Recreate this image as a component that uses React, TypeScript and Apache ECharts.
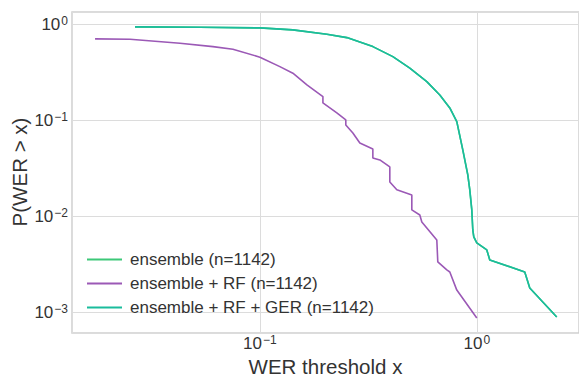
import React, { useEffect, useRef } from "react";
import * as echarts from "echarts";

const seriesNames = [
  "ensemble (n=1142)",
  "ensemble + RF (n=1142)",
  "ensemble + RF + GER (n=1142)",
];

const xTitle = "WER threshold x";
const yTitle = "P(WER > x)";

// [WER threshold, P(WER > x)]
const ensembleCurve: [number, number][] = [
  [0.02655, 0.931], [0.05291, 0.924], [0.1, 0.908], [0.1419, 0.866], [0.2036, 0.781],
  [0.2517, 0.72], [0.3317, 0.58], [0.4102, 0.456], [0.4911, 0.346], [0.5883, 0.2506],
  [0.6753, 0.182], [0.7509, 0.1334], [0.8088, 0.096], [0.8619, 0.0487], [0.9089, 0.02673],
  [0.9284, 0.0187], [0.9484, 0.01155], [0.9585, 0.00715], [0.9687, 0.00604], [1.0, 0.00524],
  [1.112, 0.00443], [1.148, 0.00348], [1.664, 0.00261], [1.755, 0.00178], [2.337, 0.000887],
];

const rfCurve: [number, number][] = [
  [0.01737, 0.698], [0.02518, 0.693], [0.04279, 0.629], [0.06073, 0.58], [0.07508, 0.545],
  [0.1, 0.45], [0.1236, 0.359], [0.1419, 0.3065], [0.1647, 0.2316], [0.1952, 0.175],
  [0.1952, 0.1503], [0.2263, 0.1183], [0.2489, 0.1], [0.2489, 0.0887], [0.2683, 0.0732],
  [0.2889, 0.0576], [0.3317, 0.0499], [0.3317, 0.0402], [0.3572, 0.0383], [0.3972, 0.0324],
  [0.3972, 0.0226], [0.4279, 0.0187], [0.5017, 0.01655], [0.5017, 0.01155], [0.5462, 0.01024],
  [0.5579, 0.00866], [0.6541, 0.00562], [0.661, 0.00332], [0.7273, 0.00274], [0.7509, 0.00261],
  [0.8088, 0.00169], [1.0, 0.000866],
];

const gerCurve: [number, number][] = ensembleCurve;

const colors = ["#3cc878", "#9b59b6", "#1abc9c"];

function powLabel(v: number): string {
  const e = Math.log10(v);
  const r = Math.round(e);
  if (Math.abs(e - r) > 1e-6) return "";
  const exp = r < 0 ? "\u2212" + Math.abs(r) : String(r);
  return "{b|10}{s|" + exp + "}";
}

const richLabel = {
  b: { fontSize: 17, color: "#333", fontFamily: "Liberation Sans", lineHeight: 18, verticalAlign: "bottom" },
  s: { fontSize: 12, color: "#333", fontFamily: "Liberation Sans", lineHeight: 18, verticalAlign: "top", padding: [0, 0, 0, 1] },
};

export default function App() {
  const ref = useRef<HTMLDivElement>(null);
  useEffect(() => {
    if (!ref.current) return;
    const chart = echarts.init(ref.current, undefined, { renderer: "svg" });
    const datas = [ensembleCurve, rfCurve, gerCurve];
    chart.setOption({
      animation: false,
      backgroundColor: "#ffffff",
      textStyle: { fontFamily: "Liberation Sans" },
      grid: {
        left: 72,
        top: 12,
        right: 0,
        bottom: 41,
        outerBoundsMode: "none",
        containLabel: false,
        show: true,
        borderColor: "#cfcfcf",
        borderWidth: 1.5,
        backgroundColor: "#ffffff",
      },
      graphic: [
        {
          type: "text",
          x: 19,
          y: 172,
          rotation: Math.PI / 2,
          style: {
            text: yTitle,
            fontSize: 20.5,
            fontFamily: "Liberation Sans",
            fill: "#333",
            align: "center",
            verticalAlign: "middle",
          },
        },
      ],
      legend: {
        left: 82,
        top: 246,
        orient: "vertical",
        itemWidth: 35,
        itemHeight: 2,
        itemGap: 7,
        icon: "rect",
        textStyle: { fontSize: 17, lineHeight: 17, color: "#333", fontFamily: "Liberation Sans", padding: [0, 0, 0, 3] },
        data: seriesNames.map((n, i) => ({ name: n, itemStyle: { color: colors[i] } })),
      },
      xAxis: {
        type: "log",
        logBase: 10,
        min: 0.0136,
        max: 2.96,
        name: xTitle,
        nameLocation: "middle",
        nameMoveOverlap: false,
        nameGap: 23,
        nameTextStyle: { fontSize: 20.5, color: "#333", fontFamily: "Liberation Sans" },
        axisLine: { show: false },
        axisTick: { show: false },
        axisLabel: {
          margin: 1,
          showMinLabel: false,
          showMaxLabel: false,
          formatter: (v: number) => powLabel(v),
          rich: richLabel,
        },
        splitLine: { show: true, lineStyle: { color: "#dcdcdc", width: 1 } },
      },
      yAxis: {
        type: "log",
        logBase: 10,
        min: 0.000604,
        max: 1.33,
        axisLine: { show: false },
        axisTick: { show: false },
        axisLabel: {
          margin: 4,
          showMinLabel: false,
          showMaxLabel: false,
          formatter: (v: number) => powLabel(v),
          rich: richLabel,
        },
        splitLine: { show: true, lineStyle: { color: "#dcdcdc", width: 1 } },
      },
      series: seriesNames.map((n, i) => ({
        name: n,
        type: "line",
        data: datas[i],
        showSymbol: false,
        symbol: "none",
        lineStyle: { color: colors[i], width: 1.6 },
        itemStyle: { color: colors[i] },
        z: i + 2,
      })),
    });
    return () => chart.dispose();
  }, []);
  return (
    <div
      ref={ref}
      style={{ position: "fixed", left: 0, top: 0, width: 579, height: 374 }}
    />
  );
}
